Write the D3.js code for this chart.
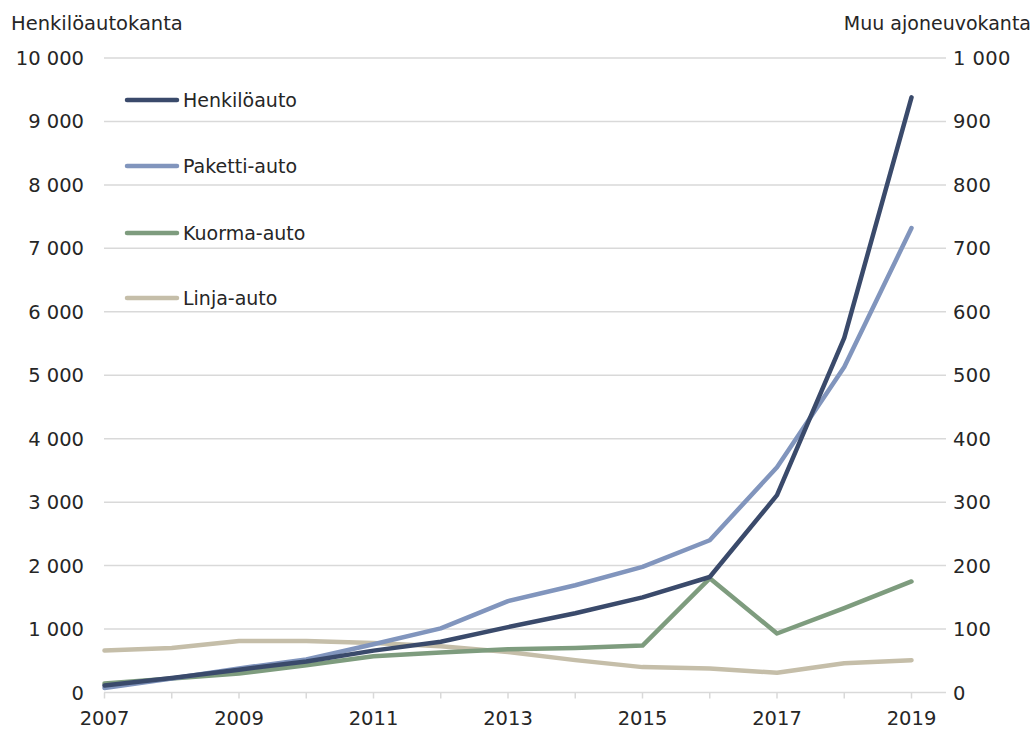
<!DOCTYPE html>
<html>
<head>
<meta charset="utf-8">
<script src="https://cdn.jsdelivr.net/npm/d3@7"></script>
<style>
  html, body { margin: 0; padding: 0; background: #fff; }
  svg text { font-family: "DejaVu Sans", Verdana, sans-serif; fill: #262626; }
</style>
</head>
<body>
<svg id="chart" width="1035" height="731"></svg>
<script>
// ---- data ----
const years = [2007, 2008, 2009, 2010, 2011, 2012, 2013, 2014, 2015, 2016, 2017, 2018, 2019];
const henkiloauto = [110, 230, 360, 490, 660, 800, 1030, 1250, 1500, 1820, 3110, 5590, 9380];   // left axis
const pakettiauto = [7, 22, 38, 52, 76, 101, 144, 169, 198, 240, 355, 513, 732];                // right axis
const kuormaauto  = [14, 22, 30, 43, 57, 63, 68, 70, 74, 180, 93, 133, 175];                    // right axis
const linjaauto   = [66, 70, 81, 81, 78, 73, 64, 51, 40, 38, 31, 46, 51];                       // right axis
const seriesNames = ["Henkilöauto", "Paketti-auto", "Kuorma-auto", "Linja-auto"];
const seriesColors = ["#3a4a6b", "#8195bd", "#7e9c7e", "#c5bea9"];
const leftTicks = [0, 1000, 2000, 3000, 4000, 5000, 6000, 7000, 8000, 9000, 10000];
const rightTicks = [0, 100, 200, 300, 400, 500, 600, 700, 800, 900, 1000];
const xLabelYears = [2007, 2009, 2011, 2013, 2015, 2017, 2019];
const leftTitle = "Henkilöautokanta";
const rightTitle = "Muu ajoneuvokanta";

// ---- layout ----
const svg = d3.select("#chart");
const plotLeft = 104, plotRight = 946, plotTop = 58, plotBottom = 692.5;
const x = d3.scaleLinear().domain([2007, 2019]).range([104.5, 911.5]);
const yL = d3.scaleLinear().domain([0, 10000]).range([plotBottom, plotTop]);
const yR = d3.scaleLinear().domain([0, 1000]).range([plotBottom, plotTop]);
const fmt = v => d3.format(",")(v).replace(/,/g, " ");

// gridlines
svg.append("g").selectAll("line").data(leftTicks).join("line")
  .attr("x1", plotLeft).attr("x2", plotRight)
  .attr("y1", d => yL(d)).attr("y2", d => yL(d))
  .attr("stroke", "#d9d9d9").attr("stroke-width", 1.5);

// x tick marks
svg.append("g").selectAll("line").data(years).join("line")
  .attr("x1", d => x(d)).attr("x2", d => x(d))
  .attr("y1", plotBottom).attr("y2", plotBottom + 6)
  .attr("stroke", "#d9d9d9").attr("stroke-width", 1.5);

// left tick labels
svg.append("g").selectAll("text").data(leftTicks).join("text")
  .attr("x", 84).attr("y", d => yL(d)).attr("dy", "0.36em")
  .attr("text-anchor", "end").attr("font-size", 19.5).text(fmt);

// right tick labels
svg.append("g").selectAll("text").data(rightTicks).join("text")
  .attr("x", 953).attr("y", d => yR(d)).attr("dy", "0.36em")
  .attr("text-anchor", "start").attr("font-size", 19.5).attr("letter-spacing", 0.4).text(fmt);

// x labels
svg.append("g").selectAll("text").data(xLabelYears).join("text")
  .attr("x", d => x(d)).attr("y", 725)
  .attr("text-anchor", "middle").attr("font-size", 19.5).text(d => d);

// axis titles
svg.append("text").attr("x", 11).attr("y", 30).attr("font-size", 19.5).text(leftTitle);
svg.append("text").attr("x", 1031).attr("y", 30).attr("text-anchor", "end").attr("font-size", 19).text(rightTitle);

// lines
const lineL = d3.line().x((d, i) => x(years[i])).y(d => yL(d));
const lineR = d3.line().x((d, i) => x(years[i])).y(d => yR(d));
const drawOrder = [
  {data: linjaauto, gen: lineR, idx: 3},
  {data: kuormaauto, gen: lineR, idx: 2},
  {data: pakettiauto, gen: lineR, idx: 1},
  {data: henkiloauto, gen: lineL, idx: 0}
];
svg.append("g").selectAll("path").data(drawOrder).join("path")
  .attr("d", d => d.gen(d.data))
  .attr("fill", "none")
  .attr("stroke", d => seriesColors[d.idx])
  .attr("stroke-width", 4.5)
  .attr("stroke-linejoin", "round")
  .attr("stroke-linecap", "round");

// legend
const legendY = [100, 166, 233, 298];
const lg = svg.append("g").selectAll("g").data(seriesNames).join("g")
  .attr("transform", (d, i) => `translate(0,${legendY[i]})`);
lg.append("line").attr("x1", 127).attr("x2", 177).attr("y1", 0).attr("y2", 0)
  .attr("stroke", (d, i) => seriesColors[i]).attr("stroke-width", 4.5).attr("stroke-linecap", "round");
lg.append("text").attr("x", 183).attr("y", 0).attr("dy", "0.36em").attr("font-size", 19).text(d => d);
</script>
</body>
</html>
